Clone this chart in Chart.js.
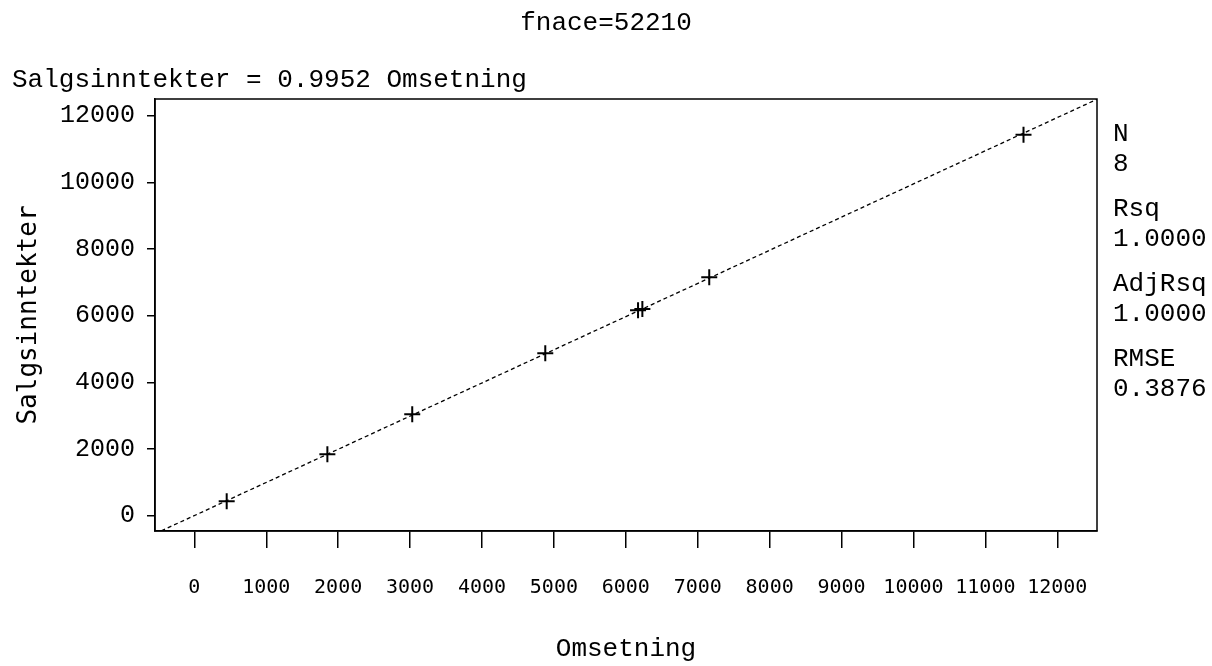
<!DOCTYPE html>
<html lang="no">
<head>
  <meta charset="UTF-8" />
  <title>fnace=52210</title>
  <script src="https://cdn.jsdelivr.net/npm/chart.js"></script>
  <style>
    body {
      margin: 0;
      background: #fff;
    }
    canvas {
      display: block;
    }
  </style>
</head>
<body>
  <canvas id="plot" width="1212" height="666"></canvas>

  <script>
    // observasjoner lest av figuren
    const omsetning = [450, 1850, 3030, 4880, 6170, 6230, 7160, 11530];
    const salgsinntekter = [430, 1840, 3040, 4870, 6160, 6200, 7150, 11430];

    // regresjon: Salgsinntekter = 0.9952 Omsetning
    const stigning = 0.9952;

    const xTicks = [0, 1000, 2000, 3000, 4000, 5000, 6000, 7000, 8000, 9000, 10000, 11000, 12000];
    const yTicks = [0, 2000, 4000, 6000, 8000, 10000, 12000];
    const xRange = [-547, 12552];
    const yRange = [-462, 12500];

    const statNavn = ['N', 'Rsq', 'AdjRsq', 'RMSE'];
    const statVerdi = ['8', '1.0000', '1.0000', '0.3876'];

    const tittel = 'fnace=52210';
    const modellTekst = 'Salgsinntekter = 0.9952 Omsetning';

    const punkter = omsetning.map((x, i) => ({ x: x, y: salgsinntekter[i] }));
    const linje = xRange.map(x => ({ x: x, y: stigning * x }));

    const serif = "'Liberation Mono', 'Courier New', monospace";
    const smal = "'DejaVu Sans Mono', monospace";

    // ramme og tekst rundt plottet
    const rammeOgTekst = {
      id: 'rammeOgTekst',
      afterDraw(chart) {
        const ctx = chart.ctx;
        const a = chart.chartArea;
        ctx.save();
        ctx.strokeStyle = '#000';
        ctx.lineWidth = 1.5;
        ctx.strokeRect(a.left, a.top, a.right - a.left, a.bottom - a.top);

        ctx.fillStyle = '#000';
        ctx.font = '26px ' + serif;
        ctx.textBaseline = 'alphabetic';
        ctx.textAlign = 'center';
        ctx.fillText(tittel, chart.width / 2, 30);
        ctx.textAlign = 'left';
        ctx.fillText(modellTekst, 12, 87);

        let y = 141;
        statNavn.forEach((navn, i) => {
          ctx.fillText(navn, a.right + 16, y);
          ctx.fillText(statVerdi[i], a.right + 16, y + 30);
          y += 75;
        });
        ctx.restore();
      }
    };

    new Chart(document.getElementById('plot'), {
      type: 'scatter',
      data: {
        datasets: [
          {
            label: 'Fit',
            type: 'line',
            data: linje,
            borderColor: '#000',
            borderWidth: 1.3,
            borderDash: [4, 3],
            pointRadius: 0,
            fill: false,
            tension: 0
          },
          {
            label: 'Salgsinntekter',
            data: punkter,
            pointStyle: 'cross',
            pointRadius: 8,
            borderColor: '#000',
            backgroundColor: '#000',
            borderWidth: 2
          }
        ]
      },
      options: {
        responsive: false,
        animation: false,
        devicePixelRatio: 1,
        layout: { padding: { top: 99, right: 115, left: 0, bottom: 0 } },
        plugins: {
          legend: { display: false },
          tooltip: { enabled: false }
        },
        scales: {
          x: {
            type: 'linear',
            position: 'bottom',
            min: xRange[0],
            max: xRange[1],
            afterBuildTicks: s => { s.ticks = xTicks.map(v => ({ value: v })); },
            afterFit: s => { s.height = 135; },
            ticks: {
              color: '#000',
              font: { family: smal, size: 20 },
              padding: 28,
              maxRotation: 0,
              autoSkip: false,
              callback: v => String(v)
            },
            grid: {
              drawOnChartArea: false,
              drawTicks: true,
              tickLength: 17,
              color: '#000',
              lineWidth: 1.5
            },
            border: { color: '#000', width: 1.5 },
            title: {
              display: true,
              text: 'Omsetning',
              color: '#000',
              font: { family: serif, size: 26 },
              padding: { top: 0, bottom: 1 }
            }
          },
          y: {
            type: 'linear',
            min: yRange[0],
            max: yRange[1],
            afterBuildTicks: s => { s.ticks = yTicks.map(v => ({ value: v })); },
            afterFit: s => { s.width = 155; },
            ticks: {
              color: '#000',
              font: { family: serif, size: 25 },
              padding: 12,
              autoSkip: false,
              callback: v => String(v)
            },
            grid: {
              drawOnChartArea: false,
              drawTicks: true,
              tickLength: 8,
              color: '#000',
              lineWidth: 1.5
            },
            border: { color: '#000', width: 1.5 },
            title: {
              display: true,
              text: 'Salgsinntekter',
              color: '#000',
              font: { family: smal, size: 26 },
              padding: { top: 14, bottom: 0 }
            }
          }
        }
      },
      plugins: [rammeOgTekst]
    });
  </script>
</body>
</html>
